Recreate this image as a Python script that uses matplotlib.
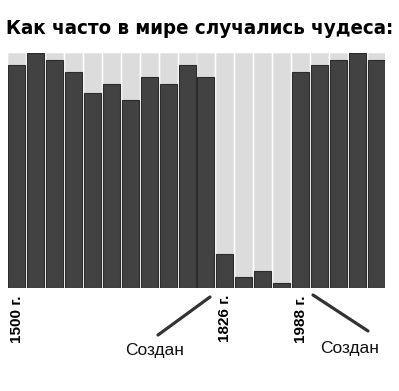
import matplotlib
matplotlib.use('Agg')
import matplotlib.pyplot as plt
import numpy as np

# share of "miracles" per period, 0..100
values = [95, 100, 97, 92, 83, 87, 80, 90, 87, 95,
          90, 14.5, 4.7, 7.2, 2.1, 92, 95, 97, 100, 97]
full = 100

year_labels = {0: '1500 г.', 11: '1826 г.', 15: '1988 г.'}
title = 'Как часто в мире случались чудеса:'
note = 'Создан'

W, H = 399, 391
fig = plt.figure(figsize=(W / 100, H / 100), dpi=100)
fig.patch.set_facecolor('white')

ax = fig.add_axes([8 / W, 1 - 288 / H, 377 / W, 235 / H])
x = np.arange(len(values))
ax.bar(x, [full] * len(values), width=0.9, color='#dcdcdc', edgecolor='#e4e4e4', linewidth=0.5)
ax.bar(x, values, width=0.9, color='#424242', edgecolor='#2c2c2c', linewidth=0.8)
ax.set_xlim(-0.45, len(values) - 0.55)
ax.set_ylim(0, full)
ax.axis('off')

# rotated year labels under the bars
for i, lab in year_labels.items():
    ax.text(i, -0.03, lab, transform=ax.get_xaxis_transform(),
            rotation=90, ha='center', va='top', fontsize=11,
            fontweight='bold', family='Liberation Sans')

fig.text(0.5, 1 - 28 / H, title, ha='center', va='center', fontsize=14.7,
         fontweight='heavy', fontstretch='condensed', family='DejaVu Sans')

# "Создан" notes with their pointer lines (pixel positions)
def px(xp, yp):
    return xp / W, 1 - yp / H

for (x0, y0), (x1, y1), (tx, ty) in [((158, 335), (210, 297), (155, 351)),
                                     ((313, 295), (368, 331), (350, 349))]:
    a, b = px(x0, y0)
    c, d = px(x1, y1)
    fig.add_artist(plt.Line2D([a, c], [b, d], transform=fig.transFigure,
                              color='#333333', lw=2.3, solid_capstyle='round'))
    tx_, ty_ = px(tx, ty)
    fig.text(tx_, ty_, note, ha='center', va='center', fontsize=12.5,
             family='Liberation Sans', color='#111111')

fig.savefig('out.png', dpi=100, facecolor='white')
